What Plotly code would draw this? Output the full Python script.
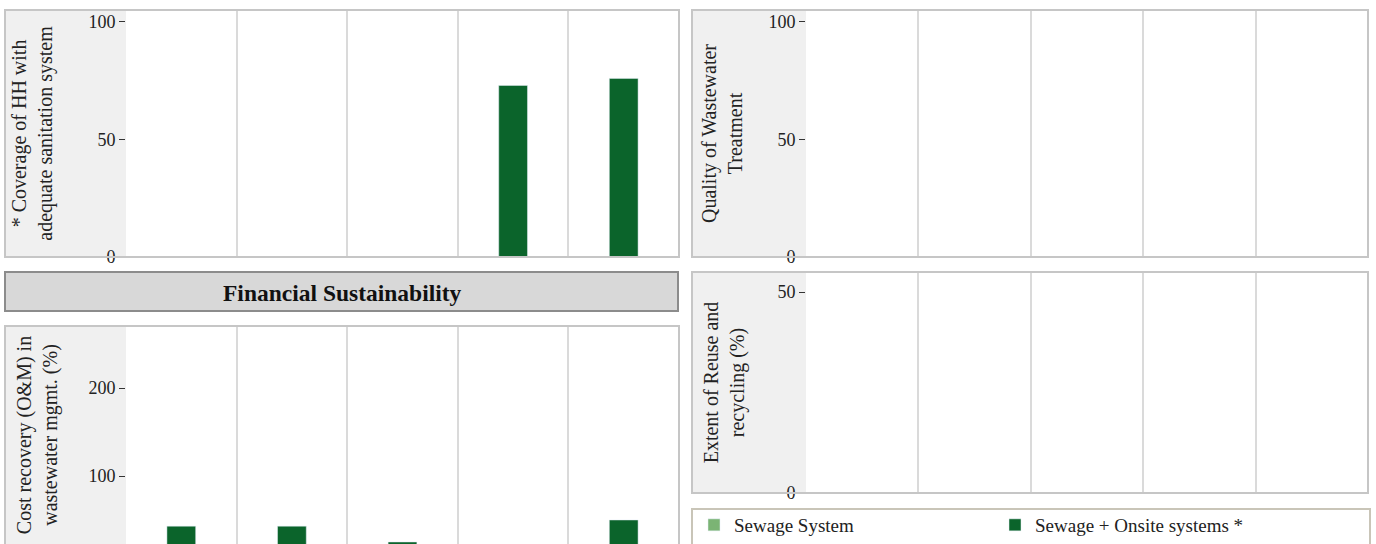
import plotly.graph_objects as go

# ---------------- data ----------------
columns = ["City 1", "City 2", "City 3", "City 4", "City 5"]
series_names = ["Sewage System", "Sewage + Onsite systems *"]

coverage_sewage = [None, None, None, None, None]
coverage_onsite = [None, None, None, 73, 76]

quality_sewage = [None, None, None, None, None]
quality_onsite = [None, None, None, None, None]

cost_recovery_sewage = [None, None, None, None, None]
cost_recovery_onsite = [43, 43, 25, None, 50]

reuse_sewage = [None, None, None, None, None]
reuse_onsite = [None, None, None, None, None]

titles = {
    "coverage": "* Coverage of HH with<br>adequate sanitation system",
    "quality": "Quality of Wastewater<br>Treatment",
    "cost": "Cost recovery (O&M) in<br>wastewater mgmt. (%)",
    "reuse": "Extent of Reuse and<br>recycling (%)",
}
section_title = "Financial Sustainability"

# ---------------- style ----------------
W, H = 1376, 544
FONT = "Liberation Serif"
LIGHT = "#7bb474"
DARK = "#0b642b"


def px(x):
    return x / W


def py(y):
    return 1 - y / H


fig = go.Figure()

panels = [
    ("", coverage_sewage, coverage_onsite),
    ("2", quality_sewage, quality_onsite),
    ("3", cost_recovery_sewage, cost_recovery_onsite),
    ("4", reuse_sewage, reuse_onsite),
]
for i, (ax, sew, ons) in enumerate(panels):
    fig.add_trace(go.Bar(x=columns, y=sew, name=series_names[0], marker_color=LIGHT,
                         width=0.26, xaxis="x" + ax, yaxis="y" + ax,
                         legendgroup="s", showlegend=(i == 0)))
    fig.add_trace(go.Bar(x=columns, y=ons, name=series_names[1], marker_color=DARK,
                         width=0.26, xaxis="x" + ax, yaxis="y" + ax,
                         legendgroup="o", showlegend=(i == 0)))

xcommon = dict(type="category", showticklabels=False, ticks="", tickson="boundaries",
               showgrid=True, gridcolor="#dadada", gridwidth=1.5, zeroline=False,
               showline=False, fixedrange=True, automargin=False)
ycommon = dict(ticks="outside", ticklen=6, tickcolor="#333", tickwidth=1,
               showgrid=False, zeroline=False, showline=False, automargin=False,
               tickfont=dict(family=FONT, size=18, color="#222"),
               title_font=dict(family=FONT, size=20, color="#222"))

layout = dict(
    width=W, height=H, margin=dict(l=0, r=0, t=0, b=0, autoexpand=False),
    paper_bgcolor="white", plot_bgcolor="white", barmode="overlay",
    font=dict(family=FONT, color="#222"),
    xaxis=dict(domain=[px(126), px(679)], anchor="y", **xcommon),
    yaxis=dict(domain=[py(257), py(10)], anchor="x", range=[0, 105.1],
               tickvals=[0, 50, 100], title=dict(text=titles["coverage"], standoff=30), **ycommon),
    xaxis2=dict(domain=[px(806), px(1368)], anchor="y2", **xcommon),
    yaxis2=dict(domain=[py(257), py(10)], anchor="x2", range=[0, 105.1],
                tickvals=[0, 50, 100], title=dict(text=titles["quality"], standoff=20), **ycommon),
    xaxis3=dict(domain=[px(126), px(679)], anchor="y3", **xcommon),
    yaxis3=dict(domain=[0, py(326)], anchor="x3", range=[22.7, 270.5],
                tickvals=[0, 100, 200], title=dict(text=titles["cost"], standoff=25), **ycommon),
    xaxis4=dict(domain=[px(806), px(1368)], anchor="y4", **xcommon),
    yaxis4=dict(domain=[py(493), py(272)], anchor="x4", range=[0, 55],
                tickvals=[0, 50], title=dict(text=titles["reuse"], standoff=27), **ycommon),
    legend=dict(orientation="h", x=px(694), y=0, xanchor="left", yanchor="bottom",
                entrywidth=256, entrywidthmode="pixels", bgcolor="rgba(0,0,0,0)",
                font=dict(family=FONT, size=19, color="#222"), borderwidth=0,
                traceorder="normal"),
    showlegend=True,
)
fig.update_layout(**layout)

shapes = []
for (x0, x1, hx, y0, y1) in [(5, 679, 126, 10, 257), (692, 1368, 806, 10, 257),
                             (5, 679, 126, 326, 570), (692, 1368, 806, 272, 493)]:
    shapes.append(dict(type="rect", xref="paper", yref="paper", x0=px(x0), x1=px(hx),
                       y0=py(y1), y1=py(y0), fillcolor="#f0f0f0", line_width=0, layer="below"))
    shapes.append(dict(type="rect", xref="paper", yref="paper", x0=px(x0), x1=px(x1),
                       y0=py(y1), y1=py(y0), fillcolor="rgba(0,0,0,0)",
                       line=dict(color="#c6c6c6", width=2), layer="above"))
shapes.append(dict(type="rect", xref="paper", yref="paper", x0=px(5), x1=px(678),
                   y0=py(311), y1=py(272), fillcolor="#d8d8d8",
                   line=dict(color="#8c8c8c", width=2), layer="below"))
shapes.append(dict(type="rect", xref="paper", yref="paper", x0=px(692), x1=px(1370),
                   y0=py(560), y1=py(509), fillcolor="rgba(0,0,0,0)",
                   line=dict(color="#c9c5b8", width=2), layer="above"))
fig.update_layout(shapes=shapes)

fig.add_annotation(text="<b>" + section_title + "</b>", xref="paper", yref="paper",
                   x=px(342), y=py(293), xanchor="center", yanchor="middle", showarrow=False,
                   font=dict(family=FONT, size=23.5, color="#111"))

fig.write_html("out.html", config={"displayModeBar": False},
               post_script="document.body.style.margin='0';"
                           "document.documentElement.style.overflow='hidden';"
                           "document.body.style.overflow='hidden';")
